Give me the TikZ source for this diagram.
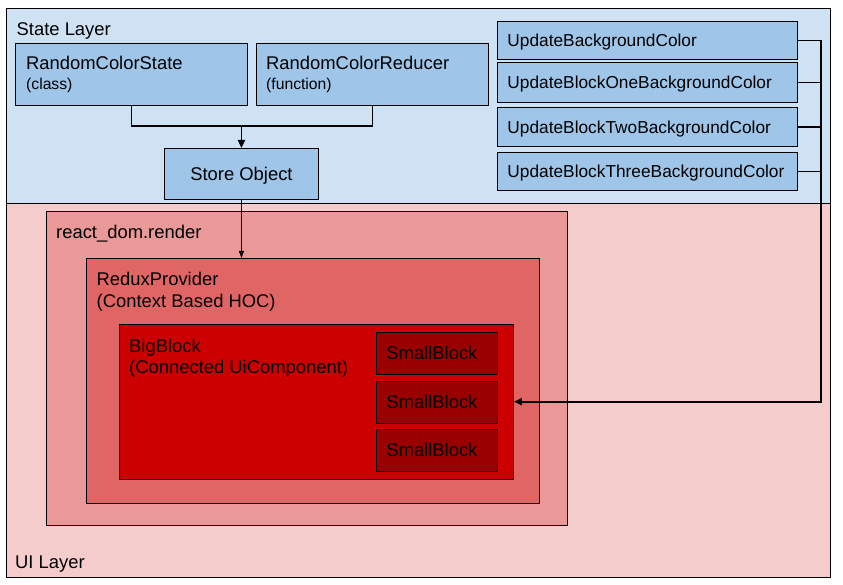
\documentclass[tikz,border=0pt]{standalone}
\usepackage{fontspec}
\setmainfont{Liberation Sans}
\usetikzlibrary{positioning}
\usetikzlibrary{arrows.meta}
\definecolor{stateBg}{HTML}{CFE2F3}
\definecolor{stateBox}{HTML}{9FC5E8}
\definecolor{uiBg}{HTML}{F4CCCC}
\definecolor{renderBg}{HTML}{EA9999}
\definecolor{reduxBg}{HTML}{E06666}
\definecolor{bigBg}{HTML}{CC0000}
\definecolor{smallBg}{HTML}{990000}
\def\mainsize{\fontsize{18.4}{21}\selectfont}
\def\subsize{\fontsize{15.7}{18}\selectfont}
\def\actsize{\fontsize{17.3}{20}\selectfont}
\tikzset{
>={Triangle[length=8pt,width=7pt]},
my box/.style={draw=black,line width=0.9pt,rectangle,inner sep=0pt,anchor=north west},
my layer/.style={my box,line width=1.3pt},
my label/.style={inner sep=0pt,anchor=base west,font=\mainsize},
my sub/.style={my label,font=\subsize},
blue box/.style={my box,fill=stateBox,text depth=0pt},
act box/.style={blue box,minimum width=300,font=\actsize,text width=280,align=left},
small box/.style={my box,fill=smallBg,minimum width=121,minimum height=42,
  font=\mainsize,text width=101,align=left,text depth=0pt},
wire/.style={line width=1.8pt},
thin wire/.style={line width=1pt,>={Triangle[length=7pt,width=5pt]}}
}
\begin{document}
\begin{tikzpicture}[x=1pt,y=-1pt]
\useasboundingbox (0,0) rectangle (843,585);
% layers
\node[my layer,fill=stateBg,minimum width=824,minimum height=195] (state) at (6,8) {};
\node[my layer,fill=uiBg,minimum width=824,minimum height=374] (ui) at (6,203) {};
\node[my label] (stateT) at ([shift={(10.5,27.5)}]state.north west) {State Layer};
\node[my label] (uiT) at ([shift={(9,-9.5)}]ui.south west) {UI Layer};
% state layer
\node[blue box,minimum width=232,minimum height=62] (rcs) at (15,43) {};
\node[blue box,minimum width=232,minimum height=62] (rcr) at (256,43) {};
\node[my label] (rcsT) at ([shift={(11,27)}]rcs.north west) {RandomColorState};
\node[my sub] (rcsS) at ([shift={(11,46.5)}]rcs.north west) {(class)};
\node[my label] (rcrT) at ([shift={(10,27)}]rcr.north west) {RandomColorReducer};
\node[my sub] (rcrS) at ([shift={(10,46.5)}]rcr.north west) {(function)};
\node[blue box,minimum width=154,minimum height=51,font=\mainsize] (store) at (164,148) {Store Object};
\node[act box,minimum height=38] (ub1) at (497,21) {UpdateBackgroundColor};
\node[act box,minimum height=40] (ub2) at (497,62) {UpdateBlockOneBackgroundColor};
\node[act box,minimum height=39] (ub3) at (497,107) {UpdateBlockTwoBackgroundColor};
\node[act box,minimum height=38] (ub4) at (497,152) {UpdateBlockThreeBackgroundColor};
% ui layer
\node[my box,fill=renderBg,minimum width=521,minimum height=314] (render) at (46,211) {};
\node[my label] (renderT) at ([shift={(10,28)}]render.north west) {react\_dom.render};
\node[my box,fill=reduxBg,minimum width=453,minimum height=245] (redux) at (86,258) {};
\node[my label] (reduxT) at ([shift={(10.5,28)}]redux.north west) {ReduxProvider};
\node[my label] (reduxS) at ([shift={(0,21)}]reduxT.base west) {(Context Based HOC)};
\node[my box,fill=bigBg,minimum width=394,minimum height=155.5] (big) at (119,323.5) {};
\node[my label] (bigT) at ([shift={(10,28.5)}]big.north west) {BigBlock};
\node[my label] (bigS) at ([shift={(0,21.5)}]bigT.base west) {(Connected UiComponent)};
\node[small box] (small1) at (376,331.5) {SmallBlock};
\node[small box] (small2) at (376,380.5) {SmallBlock};
\node[small box] (small3) at (376,428.5) {SmallBlock};
% connectors
\coordinate (join) at (store.north |- {(0,126)});
\coordinate (bus) at (821,0);
\draw[wire] (rcs.south) |- (join) -| (rcr.south);
\draw[wire,->] (join) -- (store.north);
\draw[thin wire,->] (store.south) -- (store.south |- redux.north);
\draw[wire,->] (ub1.east) -- (ub1.east -| bus) |- (big.east);
\foreach \i in {2,3,4}
  \draw[wire] (ub\i.east) -- (ub\i.east -| bus);
\end{tikzpicture}
\end{document}
